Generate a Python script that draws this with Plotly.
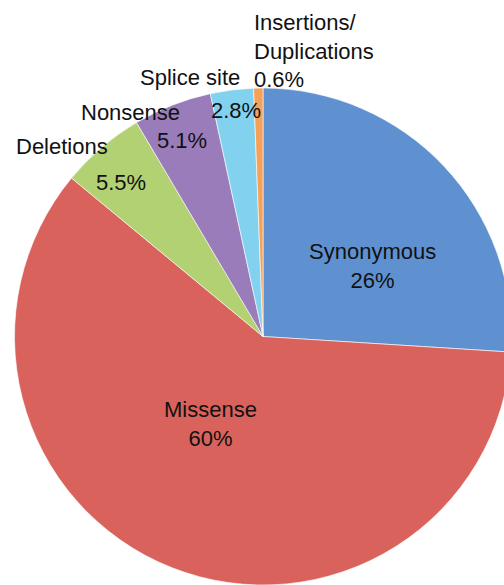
import plotly.graph_objects as go

categories = ["Synonymous", "Missense", "Deletions", "Nonsense", "Splice site", "Insertions/<br>Duplications"]
values = [26, 60, 5.5, 5.1, 2.8, 0.6]
colors = ["#5f91d1", "#da625c", "#b1d173", "#9a7cba", "#82d2ef", "#f5a15c"]

W, H = 530, 585

def pct(v):
    return f"{v:g}%"

fig = go.Figure(go.Pie(
    labels=categories,
    values=values,
    sort=False,
    direction="clockwise",
    rotation=0,
    textinfo="none",
    hoverinfo="label+percent",
    marker=dict(colors=colors, line=dict(color="white", width=0.6)),
    domain=dict(x=[14 / W, 512 / W], y=[0, 497 / H]),
    showlegend=False,
))

font = dict(family="Liberation Sans, Arial, sans-serif", size=22, color="#111111")

def ann(text, px, py, align="center", xanchor="center", yanchor="middle"):
    fig.add_annotation(text=text, x=px / W, y=1 - py / H, xref="paper", yref="paper",
                       showarrow=False, font=font, align=align,
                       xanchor=xanchor, yanchor=yanchor)

# inside labels
ann(f"{categories[0]}<br>{pct(values[0])}", 372, 266)
ann(f"{categories[1]}<br>{pct(values[1])}", 210, 424)
# outside labels
ann(categories[2], 62, 146)
ann(pct(values[2]), 121, 182)
ann(categories[3], 130, 113)
ann(pct(values[3]), 182, 140)
ann(categories[4], 190, 78)
ann(pct(values[4]), 236, 110)
ann(f"{categories[5]}<br>{pct(values[5])}", 252, 8, align="left", xanchor="left", yanchor="top")

fig.update_layout(width=W, height=H, margin=dict(l=0, r=0, t=0, b=0),
                  paper_bgcolor="white", plot_bgcolor="white")

fig.write_html("out.html", config={"displayModeBar": False}, post_script=(
    "document.body.style.margin='0';"
    "document.body.style.overflow='hidden';"
    "document.documentElement.style.overflow='hidden';"))
